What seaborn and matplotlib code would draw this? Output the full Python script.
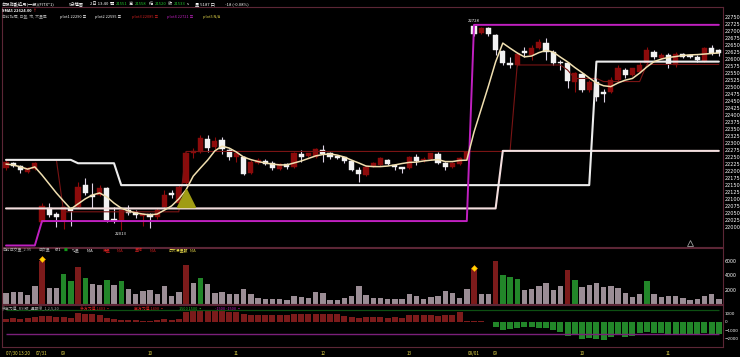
import matplotlib
matplotlib.use("Agg")
import matplotlib.pyplot as plt
from matplotlib import font_manager
import numpy as np
import pandas as pd
import seaborn as sns

# Constants
W, H = 740, 357
RED = "#8c0b0b"
WHITE = "#f2f2f2"
WICK_WHITE = "#ddd4e6"
GREEN = "#12961a"
NUM_GREEN = "#22c32a"
TXT_RED = "#d02020"
GRAY_VOL = "#9d8b96"
SPINE = "#5c2636"
YELLOW = "#e6d84a"
MAGENTA = "#c020c0"
CREAM = "#f0dfb0"
LABEL = "#a8a8a8"

# 5-minute bars: 07/30 13:25 .. 08/01 11:35
opens = [22210, 22230, 22217, 22198, 22206, 22020, 22067, 22047, 22026, 22064,
         22073, 22150, 22115, 22115, 22139, 22028, 22026, 22063, 22055, 22040,
         22047, 22038, 22073, 22121, 22085, 22157, 22263, 22269, 22313, 22287,
         22311, 22275, 22251, 22251, 22194, 22230, 22237, 22230, 22207, 22226,
         22216, 22261, 22254, 22251, 22275, 22264, 22254, 22249, 22237, 22204,
         22186, 22218, 22222, 22240, 22222, 22213, 22210, 22249, 22239, 22242,
         22260, 22230, 22213, 22225, 22242, 22717, 22691, 22709, 22685, 22628,
         22586, 22578, 22628, 22613, 22637, 22655, 22625, 22590, 22584, 22519,
         22545, 22489, 22519, 22481, 22483, 22525, 22560, 22542, 22554, 22584,
         22625, 22604, 22614, 22578, 22616, 22614, 22607, 22593, 22637, 22631]
closes = [22234, 22218, 22203, 22210, 22228, 22074, 22044, 22038, 22073, 22057,
          22144, 22121, 22109, 22139, 22026, 22022, 22061, 22052, 22044, 22047,
          22038, 22061, 22115, 22115, 22144, 22263, 22272, 22317, 22283, 22308,
          22278, 22251, 22263, 22190, 22233, 22240, 22224, 22210, 22225, 22216,
          22263, 22249, 22263, 22278, 22261, 22251, 22246, 22237, 22204, 22190,
          22216, 22228, 22246, 22225, 22216, 22207, 22251, 22237, 22243, 22263,
          22230, 22213, 22230, 22246, 22269, 22688, 22711, 22687, 22631, 22584,
          22578, 22616, 22620, 22637, 22659, 22625, 22584, 22584, 22521, 22548,
          22489, 22519, 22465, 22474, 22525, 22566, 22542, 22566, 22578, 22631,
          22607, 22614, 22581, 22616, 22607, 22606, 22596, 22637, 22620, 22620]
highs = [22240, 22234, 22220, 22213, 22234, 22085, 22086, 22055, 22076, 22073,
         22162, 22174, 22157, 22150, 22144, 22073, 22066, 22079, 22061, 22050,
         22050, 22070, 22133, 22133, 22150, 22269, 22282, 22329, 22329, 22322,
         22320, 22280, 22269, 22255, 22240, 22245, 22244, 22235, 22228, 22230,
         22268, 22275, 22266, 22282, 22293, 22268, 22258, 22252, 22241, 22216,
         22220, 22232, 22250, 22243, 22225, 22216, 22254, 22260, 22252, 22266,
         22268, 22233, 22233, 22249, 22272, 22722, 22714, 22715, 22690, 22632,
         22607, 22626, 22643, 22650, 22669, 22673, 22632, 22596, 22588, 22554,
         22548, 22525, 22531, 22492, 22537, 22578, 22566, 22569, 22590, 22643,
         22631, 22620, 22620, 22623, 22620, 22618, 22613, 22641, 22649, 22634]
lows = [22203, 22214, 22192, 22195, 22204, 22017, 22036, 22000, 21994, 22004,
        22070, 22115, 22067, 22110, 22020, 22014, 21990, 22044, 22032, 22005,
        21997, 22030, 22070, 22104, 22080, 22150, 22247, 22265, 22269, 22280,
        22262, 22240, 22233, 22185, 22190, 22225, 22220, 22205, 22203, 22208,
        22212, 22233, 22250, 22248, 22233, 22244, 22242, 22230, 22200, 22162,
        22183, 22214, 22219, 22222, 22204, 22193, 22206, 22220, 22233, 22240,
        22225, 22205, 22210, 22222, 22239, 22680, 22688, 22680, 22614, 22578,
        22566, 22575, 22607, 22595, 22634, 22596, 22578, 22560, 22495, 22483,
        22483, 22483, 22450, 22447, 22480, 22520, 22530, 22539, 22551, 22578,
        22600, 22598, 22566, 22572, 22604, 22603, 22590, 22590, 22614, 22610]

# indicator lines
sma5 = [22225, 22222, 22215, 22207, 22215, 22186, 22154, 22122, 22093, 22065,
        22083, 22101, 22115, 22122, 22108, 22086, 22068, 22058, 22051, 22047,
        22044, 22047, 22061, 22076, 22101, 22133, 22182, 22211, 22239, 22272,
        22289, 22282, 22268, 22250, 22241, 22234, 22229, 22225, 22222, 22222,
        22229, 22236, 22245, 22254, 22259, 22261, 22257, 22250, 22239, 22229,
        22218, 22216, 22216, 22218, 22222, 22227, 22231, 22232, 22236, 22239,
        22241, 22234, 22234, 22238, 22239, 22339, 22421, 22503, 22589, 22656,
        22638, 22621, 22607, 22610, 22622, 22630, 22624, 22606, 22589, 22569,
        22551, 22532, 22514, 22504, 22501, 22514, 22524, 22530, 22549, 22571,
        22590, 22599, 22605, 22608, 22612, 22614, 22615, 22617, 22619, 22621]
plot1 = [22067] * 69 + [22272] * 31
plot2 = [22240] * 10 + [22228] * 6 + [22150] * 66 + [22590] * 18
plot3 = [22240] * 8 + [22055] * 17 + [22270] * 46 + [22578] * 7 + [22560] + \
        [22530] * 4 + [22519] * 6 + [22580] * 11
plot4 = [21935] * 5 + [22022] * 60 + [22721] * 35

# volume
volumes = [1490, 1680, 1680, 1260, 2560, 6060, 2190, 2240, 4150, 3220,
           5170, 3680, 2750, 2660, 3360, 2660, 3220, 2100, 1350, 1820,
           1910, 1350, 2520, 1070, 1720, 5450, 2940, 3680, 2750, 1540,
           1720, 1440, 1440, 2050, 1440, 885, 700, 745, 745, 560,
           1120, 1030, 790, 1630, 1580, 560, 560, 885, 1120, 2560,
           1260, 790, 790, 650, 650, 650, 1400, 1165, 700, 980,
           1070, 1770, 1580, 790, 2050, 4890, 1400, 1400, 6010, 4000,
           3770, 3500, 2000, 2140, 2560, 2890, 1910, 2470, 4750, 3400,
           2420, 2610, 2890, 2380, 2470, 2280, 1490, 980, 1440, 3220,
           1440, 980, 1120, 1070, 885, 510, 700, 1120, 1350, 700]
vol_red_idx = [5, 10, 25, 65, 68, 78]
vol_green_idx = [8, 9, 11, 14, 16, 27, 69, 70, 71, 79, 89]
diamond_idx = [5, 65]
diamond_vol = [6250, 5100]

# oscillator
osc = [320, 480, 400, 440, 600, 680, 680, 600, 560, 440,
       1045, 1005, 925, 845, 520, 360, 240, 280, 240, 120,
       80, 240, 320, 280, 360, 1205, 1285, 1365, 1450, 1450,
       1405, 1205, 1165, 925, 885, 845, 885, 845, 885, 845,
       1005, 965, 965, 965, 1005, 965, 925, 765, 600, 520,
       560, 640, 560, 520, 600, 520, 805, 845, 885, 805,
       680, 845, 885, 1165, 80, 120, 80, 0, -563, -965,
       -805, -685, -645, -563, -685, -685, -965, -1165, -1690, -1530,
       -2050, -1930, -2090, -2170, -1850, -1610, -1770, -1650, -1370, -1245,
       -1370, -1285, -1530, -1530, -1490, -1570, -1450, -1370, -1405, -1490]

date_pos = [0, 5, 8, 20, 32, 44, 56, 65, 68, 80, 92]
date_labels = ["07/30 13:20", "07/31", "09", "10", "11", "12", "13",
               "08/01", "09", "10", "11"]

sns.set_theme(style="dark", rc={"axes.facecolor": "black", "figure.facecolor": "black",
                                "savefig.facecolor": "black", "text.color": "white",
                                "axes.grid": False})
plt.rcParams["font.family"] = ["Noto Sans CJK TC", "DejaVu Sans"]

installed = {f.name for f in font_manager.fontManager.ttflist}
if "Liberation Sans Narrow" in installed:
    SMALL = ["Liberation Sans Narrow", "Noto Sans CJK TC", "DejaVu Sans"]
    SCALE = 1.0
else:
    SMALL = ["Noto Sans CJK TC", "DejaVu Sans"]
    SCALE = 0.85

fig = plt.figure(figsize=(W / 100, H / 100), dpi=100)
renderer = fig.canvas.get_renderer()


def add_panel(top, bottom, label_size=3.6):
    ax = fig.add_axes([2 / W, 1 - bottom / H, 721 / W, (bottom - top) / H])
    ax.set_facecolor("black")
    for s in ax.spines.values():
        s.set_color(SPINE)
        s.set_linewidth(0.8)
    ax.yaxis.tick_right()
    ax.tick_params(axis="y", length=0, pad=1.2, labelsize=label_size, labelcolor="white")
    ax.set_xlim(-0.556, 99.58)
    return ax


def right_labels(ax):
    for lab in ax.get_yticklabels():
        lab.set_fontfamily("DejaVu Sans")


def put_row(y, items, size, weight="normal"):
    # items: (x px, text, colour); never let a piece run into the previous one
    end = -10
    for x, s, color in items:
        x0 = max(x, end + 1.5)
        t = fig.text(x0 / W, 1 - y / H, s, color=color, fontsize=size * SCALE,
                     va="center", ha="left", family=SMALL, fontweight=weight)
        end = t.get_window_extent(renderer=renderer).x1


idx = np.arange(len(opens))
o, c = np.array(opens), np.array(closes)
up = c >= o

# ---- main price panel
ax = add_panel(7, 247)
ax.vlines(idx, lows, highs, colors=np.where(up, RED, WICK_WHITE), linewidth=0.8, zorder=2)
ax.bar(idx, np.abs(c - o), bottom=np.minimum(o, c), width=0.72,
       color=np.where(up, RED, WHITE), edgecolor=np.where(up, RED, WHITE),
       linewidth=0.3, zorder=2.5)
sns.lineplot(x=idx, y=plot3, ax=ax, color="#7a1414", linewidth=0.8, zorder=3)
sns.lineplot(x=idx, y=plot1, ax=ax, color="#f3dede", linewidth=1.5, zorder=3)
sns.lineplot(x=idx, y=plot2, ax=ax, color="#ececec", linewidth=1.5, zorder=3)
sns.lineplot(x=idx, y=plot4, ax=ax, color=MAGENTA, linewidth=1.4, zorder=3)
sns.lineplot(x=idx, y=sma5, ax=ax, color=CREAM, linewidth=1.1, zorder=4)
ax.plot([25], [22104], marker="^", ms=12.5, color="#a09c14", zorder=5)
ax.plot([95], [21945], marker="^", ms=4, mfc="none", mec="#9a9a9a", mew=0.6, zorder=5)
ax.text(65, 22735, "22728", color="white", fontsize=3.6 * SCALE, ha="center",
        va="center", family=SMALL)
ax.text(16, 21976, "22013", color="white", fontsize=3.6 * SCALE, ha="center",
        va="center", family=SMALL)
ax.set_ylim(21929.6, 22784.6)
ax.set_yticks(np.arange(22000, 22751, 25))
ax.set_xticks([])
ax.set_xlabel("")
ax.set_ylabel("")
right_labels(ax)

# ---- volume panel
axv = add_panel(248, 304, 3.4)
kind = ["gray"] * len(volumes)
for i in vol_red_idx:
    kind[i] = "red"
for i in vol_green_idx:
    kind[i] = "green"
df_vol = pd.DataFrame({"idx": idx, "vol": volumes, "kind": kind})
sns.barplot(data=df_vol, x="idx", y="vol", hue="kind",
            palette={"gray": GRAY_VOL, "red": RED, "green": GREEN},
            native_scale=True, dodge=False, width=0.75, legend=False,
            errorbar=None, ax=axv, linewidth=0)
axv.plot(diamond_idx, diamond_vol, "D", ms=3, color="#ffd800", mec="#ff9a00",
         mew=0.4, linestyle="none", zorder=5)
axv.set_xlim(-0.556, 99.58)
axv.set_ylim(0, 7830)
axv.set_yticks([2000, 4000, 6000])
axv.set_xticks([])
axv.set_xlabel("")
axv.set_ylabel("")
right_labels(axv)

# ---- oscillator panel
axo = add_panel(305, 347, 3.0)
df_osc = pd.DataFrame({"idx": idx, "val": osc,
                       "kind": np.where(np.array(osc) >= 0, "pos", "neg")})
sns.barplot(data=df_osc, x="idx", y="val", hue="kind",
            palette={"pos": RED, "neg": GREEN}, native_scale=True, dodge=False,
            width=0.85, legend=False, errorbar=None, ax=axo, linewidth=0)
axo.hlines([1500], 0, 99, color="#0d4f12", linewidth=0.9, zorder=3)
axo.hlines([-1500], 0, 99, color="#7a1f7a", linewidth=1.0, zorder=3)
axo.set_xlim(-0.556, 99.58)
axo.set_ylim(-3012, 2048)
axo.set_yticks([1000, 0, -1000, -2000])
axo.set_xticks(date_pos)
axo.set_xticklabels(date_labels)
axo.tick_params(axis="x", length=2.5, width=0.5, color="#888888", pad=0.5,
                labelsize=3.8 * SCALE, labelcolor=YELLOW)
for lab in axo.get_xticklabels():
    lab.set_fontfamily(SMALL)
axo.get_xticklabels()[0].set_ha("left")
axo.set_xlabel("")
axo.set_ylabel("")
right_labels(axo)

# ---- header texts
put_row(4, [(2, "台股指數近月(一般)(FITX*1)", "white"), (69, "5分鐘圖", "white"),
            (90, "2日 13:40", "white"), (110, "開", "white"), (116, "21551", NUM_GREEN),
            (129, "高", "white"), (135, "21558", NUM_GREEN), (149, "低", "white"),
            (155, "21520", NUM_GREEN), (168, "收", "white"), (174, "21533", NUM_GREEN),
            (187, "s", "white"), (195, "量 5187 口", "white"),
            (225, "-18 (-0.08%)", "white")], 3.6)
put_row(11, [(2, "SMA5 22624.00", "white"), (28, "↑", TXT_RED)], 3.4, "bold")
put_row(17, [(2, "自訂指標, 日盤, 市, 大量區", LABEL), (60, "plot1 22290 ≡", "white"),
             (95, "plot2 22595 ≡", "white"), (132, "plot3 22085 ≡", TXT_RED),
             (167, "plot4 22721 ≡", MAGENTA), (203, "plot5 N/A", YELLOW)], 3.3)
put_row(250, [(2, "自訂成交量_2.95", LABEL), (39, "成交量", LABEL), (55, "671", "white"),
              (64, "■", GREEN), (72, "均量", LABEL), (87, "N/A", "white"),
              (103, "爆量", TXT_RED), (117, "N/A", TXT_RED), (135, "量縮", TXT_RED),
              (150, "N/A", TXT_RED), (169, "最大爆量數", YELLOW), (190, "N/A", YELLOW)], 3.3)
put_row(309, [(2, "多空力道_RSI版_週期線_1,2,5,20", LABEL), (80, "多方力道 1403 ▪", TXT_RED),
              (134, "空方力道 1490 ▪", TXT_RED), (179, "1500 1500 ▪", NUM_GREEN),
              (215, "-1500 -1500 ▪", MAGENTA)], 3.3)

fig.savefig("out.png", dpi=100, facecolor="black")
